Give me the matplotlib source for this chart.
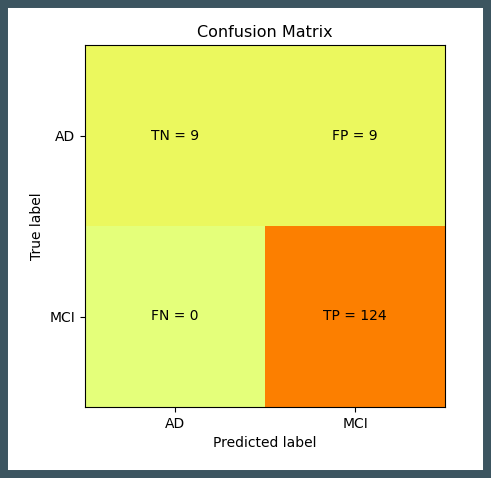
import matplotlib
matplotlib.use("Agg")
import matplotlib.pyplot as plt
from matplotlib.patches import Rectangle
import numpy as np

classes = ["AD", "MCI"]
cm = np.array([[9, 9], [0, 124]])
cell_names = [["TN", "FP"], ["FN", "TP"]]

fig = plt.figure(figsize=(4.91, 4.78), dpi=100)
fig.patch.set_facecolor("white")
# dark frame around the picture (8 px ~ 5.76 pt per side -> lw 11.5 centred on edge)
fig.patches.append(Rectangle((0, 0), 1, 1, transform=fig.transFigure,
                             facecolor="none", edgecolor="#3c5560",
                             linewidth=11.5, zorder=10))

ax = fig.add_axes([85 / 491, 1 - 407 / 478, 360 / 491, 362 / 478])
ax.imshow(cm, cmap="Wistia", interpolation="nearest", aspect="auto")
ax.set_title("Confusion Matrix", fontsize=11.5)
ax.set_xticks(range(len(classes)))
ax.set_xticklabels(classes)
ax.set_yticks(range(len(classes)))
ax.set_yticklabels(classes)
ax.set_xlabel("Predicted label")
ax.set_ylabel("True label")
for i in range(2):
    for j in range(2):
        ax.text(j, i, f"{cell_names[i][j]} = {cm[i, j]}", ha="center", va="center", fontsize=10)

fig.savefig("out.png", dpi=100, facecolor="white")
